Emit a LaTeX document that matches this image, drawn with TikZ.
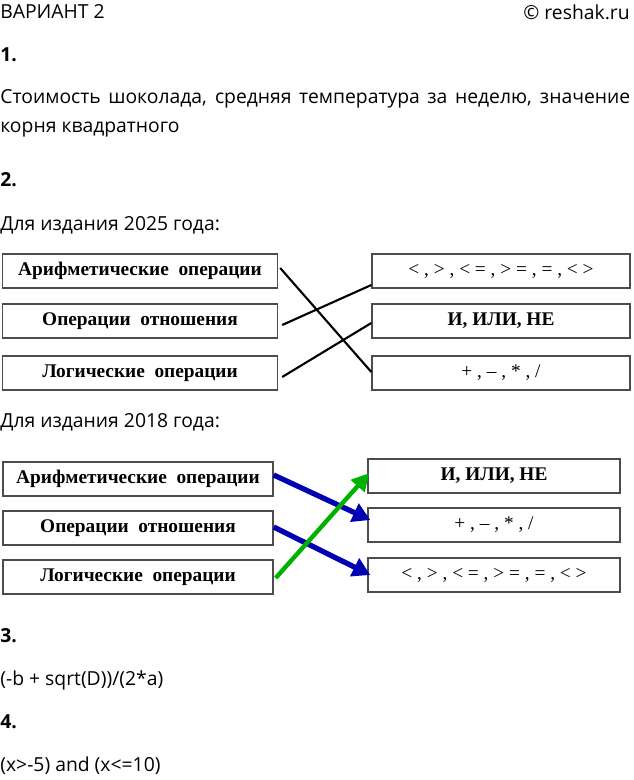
\documentclass[tikz,border=0pt]{standalone}
\usepackage{fontspec}
\setmainfont{Open Sans}
\newfontfamily\boxfont{Liberation Serif}
\usetikzlibrary{positioning,arrows.meta,calc}
\tikzset{
  txt/.style={anchor=west, inner sep=0pt, font=\fontsize{11}{13}\selectfont},
  num/.style={txt, font=\fontsize{11}{13}\selectfont\bfseries},
  lbox/.style={draw=black!70, thick, minimum height=0.68cm, inner sep=0pt,
    font=\boxfont\fontsize{11}{13}\selectfont\bfseries},
  link/.style={line width=1.2pt},
  blue arrow/.style={draw=blue!70!black, line width=3pt, -{Triangle[length=10pt,width=11pt]}},
  green arrow/.style={draw=green!70!black, line width=2.5pt, -{Triangle[length=10pt,width=10pt]}}
}
\begin{document}
\begin{tikzpicture}[x=0.02cm,y=-0.02cm]
    \useasboundingbox (0,0) rectangle (633,780);
    \node (var) [txt] at (0,12) {ВАРИАНТ 2};
    \node (copy) [txt, anchor=east] at (630,12) {© reshak.ru};
    \node (n1) [num] at (0,55) {1.};
    \node (a1) [txt, text width=12.6cm, align=justify, anchor=north west, font=\fontsize{11}{16.5}\selectfont] at (0,89)
      {Стоимость шоколада, средняя температура за неделю, значение корня квадратного};
    \node (n2) [num] at (0,180) {2.};
    \node (t25) [txt] at (0,225) {Для издания 2025 года:};

    % 2025
    \node (ar1) [lbox, minimum width=5.5cm] at (140,271) {Арифметические\ \ операции};
    \node (re1) [lbox, minimum width=5.5cm] at (140,321) {Операции\ \ отношения};
    \node (lo1) [lbox, minimum width=5.5cm] at (140,373) {Логические\ \ операции};
    \node (cmp1) [lbox, minimum width=5.16cm, font=\boxfont\fontsize{11}{13}\selectfont] at (501,271) {< , > , < = , > = , = , < >};
    \node (log1) [lbox, minimum width=5.16cm] at (501,321) {И, ИЛИ, НЕ};
    \node (ops1) [lbox, minimum width=5.16cm, font=\boxfont\fontsize{11}{13}\selectfont] at (501,373) {+ , – , * , /};
    \draw [link] ($(ar1.east)+(2,-3)$) -- ($(ops1.west)+(0,-1)$);
    \draw [link] ($(re1.east)+(4,4)$) -- ($(cmp1.west)+(0,14)$);
    \draw [link] ($(lo1.east)+(4,4)$) -- ($(log1.west)+(0,2)$);

    \node (t18) [txt] at (0,422) {Для издания 2018 года:};

    % 2018
    \node (ar2) [lbox, minimum width=5.4cm] at (138,479) {Арифметические\ \ операции};
    \node (re2) [lbox, minimum width=5.4cm] at (138,528) {Операции\ \ отношения};
    \node (lo2) [lbox, minimum width=5.4cm] at (138,577) {Логические\ \ операции};
    \node (log2) [lbox, minimum width=5.04cm] at (494,476) {И, ИЛИ, НЕ};
    \node (ops2) [lbox, minimum width=5.04cm, font=\boxfont\fontsize{11}{13}\selectfont] at (494,525) {+ , – , * , /};
    \node (cmp2) [lbox, minimum width=5.04cm, font=\boxfont\fontsize{11}{13}\selectfont] at (494,575) {< , > , < = , > = , = , < >};
    \draw [blue arrow] ($(ar2.east)+(0,-4)$) -- ($(ops2.west)+(3,-5)$);
    \draw [blue arrow] ($(re2.east)+(0,-1)$) -- ($(cmp2.west)+(3,0)$);
    \draw [green arrow] ($(lo2.east)+(2,1)$) -- ($(log2.west)+(2,-3)$);

    \node (n3) [num] at (0,636) {3.};
    \node (a3) [txt] at (0,680) {(-b + sqrt(D))/(2*a)};
    \node (n4) [num] at (0,722) {4.};
    \node (a4) [txt] at (0,766) {(x>-5) and (x<=10)};
\end{tikzpicture}
\end{document}
